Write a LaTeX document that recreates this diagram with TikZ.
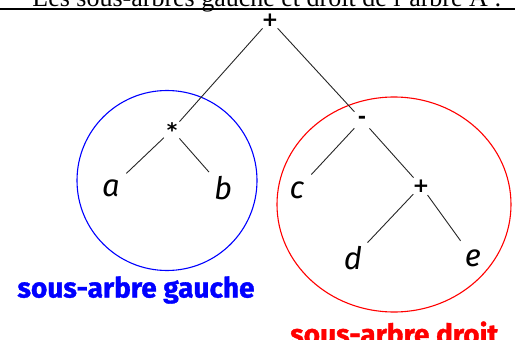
\documentclass[tikz,border=0pt]{standalone}
\usepackage{fontspec}
\setmainfont{Liberation Serif}
\newfontfamily\leaffont{Fira Sans}
\newfontfamily\labfont{Fira Sans}[BoldFeatures={FakeBold=1.2}]
\newfontfamily\opfont{DejaVu Sans}[BoldFont={DejaVu Sans Bold}]
\begin{document}
\begin{tikzpicture}[x=1pt,y=-1pt,
  opnode/.style={circle,inner sep=0pt,minimum size=22pt,font=\fontsize{20}{20}\selectfont\opfont\bfseries},
  leafnode/.style={circle,inner sep=0pt,minimum size=42pt,font=\fontsize{31}{31}\selectfont\leaffont\itshape},
  edgeline/.style={draw=black!85,line width=0.9pt},
  lablue/.style={text=blue,font=\fontsize{28}{28}\selectfont\labfont\bfseries},
  labred/.style={text=red,font=\fontsize{28}{28}\selectfont\labfont\bfseries}]
\useasboundingbox (0,0) rectangle (515,340);
\clip (0,0) rectangle (515,340);
% title (clipped at top)
\node[anchor=base,inner sep=0pt,font=\fontsize{26}{26}\selectfont] (title) at (267,6) {Les sous-arbres gauche et droit de l'arbre A :};
\coordinate (hl) at (0,8.5);
\coordinate (hr) at (515,8.5);
\draw[line width=2pt] (hl) -- (hr);
% subtree circles
\draw[blue,line width=1.1pt] (167,180.5) circle (90);
\draw[red,line width=1.1pt] (394,204.5) ellipse [x radius=117,y radius=107.5];
% nodes
\node[opnode] (root) at (270,20) {+};
\node[opnode] (mul) at (172,130) {*};
\node[opnode] (minus) at (362,120) {-};
\node[opnode] (plus) at (421,186) {+};
\node[leafnode] (a) at (111,188) {a};
\node[leafnode] (b) at (223,188) {b};
\node[leafnode] (c) at (297,190) {c};
\node[leafnode] (d) at (353,258) {d};
\node[leafnode] (e) at (473,258) {e};
% edges
\draw[edgeline] (root) -- (mul);
\draw[edgeline] (root) -- (minus);
\draw[edgeline] (mul) -- (a);
\draw[edgeline] (mul) -- (b);
\draw[edgeline] (minus) -- (c);
\draw[edgeline] (minus) -- (plus);
\draw[edgeline] (plus) -- (d);
\draw[edgeline] (plus) -- (e);
% labels
\node[lablue,inner sep=0pt] (lg) at (136,290) {sous-arbre gauche};
\node[labred,inner sep=0pt,anchor=west] (ld) at (290,333) {sous-arbre droit};
\end{tikzpicture}
\end{document}
